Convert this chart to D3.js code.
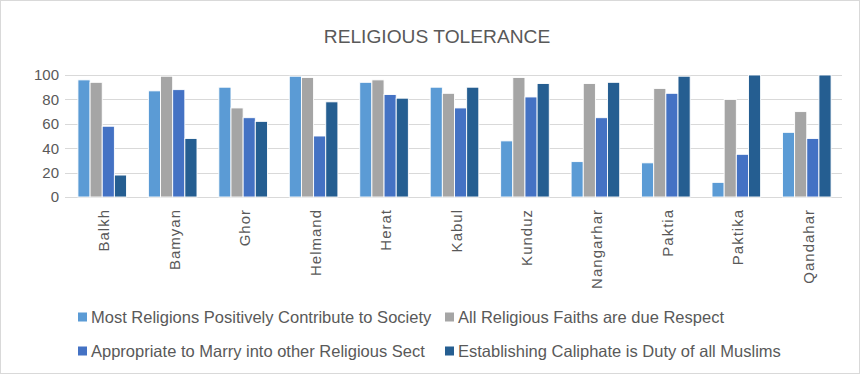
<!DOCTYPE html>
<html>
<head>
<meta charset="utf-8">
<script src="https://cdn.jsdelivr.net/npm/d3@7"></script>
<style>
  html, body { margin: 0; padding: 0; background: #fff; }
  svg { display: block; }
</style>
</head>
<body>
<svg id="chart" width="860" height="376"></svg>
<script>
// Provinces on the x axis
const provinces = ["Balkh", "Bamyan", "Ghor", "Helmand", "Herat", "Kabul",
  "Kunduz", "Nangarhar", "Paktia", "Paktika", "Qandahar"];

// Survey statements (series)
const seriesNames = [
  "Most Religions Positively Contribute to Society",
  "All Religious Faiths are due Respect",
  "Appropriate to Marry into other Religious Sect",
  "Establishing Caliphate is Duty of all Muslims"
];

// Percent agreeing, per province
const contributeValues = [96, 87, 90, 99, 94, 90, 46, 29, 28, 12, 53];
const respectValues    = [94, 99, 73, 98, 96, 85, 98, 93, 89, 80, 70];
const marryValues      = [58, 88, 65, 50, 84, 73, 82, 65, 85, 35, 48];
const caliphateValues  = [18, 48, 62, 78, 81, 90, 93, 94, 99, 100, 100];

const yTicks = [0, 20, 40, 60, 80, 100];
const colors = ["#5B9BD5", "#A5A5A5", "#4472C4", "#255E91"];

const seriesValues = [contributeValues, respectValues, marryValues, caliphateValues];

const svg = d3.select("#chart");
const W = 860, H = 376;
const margin = { left: 67, right: 18, top: 75, bottom: 179 };

// outer chart border
svg.append("rect")
  .attr("x", 0.5).attr("y", 0.5)
  .attr("width", W - 1).attr("height", H - 3)
  .attr("fill", "#fff").attr("stroke", "#D9D9D9");

const x = d3.scaleBand()
  .domain(provinces)
  .range([margin.left, W - margin.right])
  .paddingInner(0.31).paddingOuter(0.155);

const x0 = d3.scaleBand()
  .domain(provinces)
  .range([margin.left, W - margin.right])
  .padding(0);

const xs = d3.scaleBand()
  .domain(d3.range(seriesNames.length))
  .range([0, x.bandwidth()])
  .padding(0);

const y = d3.scaleLinear()
  .domain([0, 100])
  .range([H - margin.bottom, margin.top]);

// title
svg.append("text")
  .attr("x", 437).attr("y", 43)
  .attr("text-anchor", "middle")
  .attr("font-family", "Liberation Sans, Arial, sans-serif")
  .attr("font-size", 19.2)
  .attr("fill", "#595959")
  .text("RELIGIOUS TOLERANCE");

// gridlines
svg.append("g")
  .selectAll("line")
  .data(yTicks)
  .join("line")
  .attr("x1", margin.left - 2).attr("x2", W - margin.right)
  .attr("y1", d => Math.round(y(d)) + 0.5)
  .attr("y2", d => Math.round(y(d)) + 0.5)
  .attr("stroke", "#D9D9D9")
  .attr("stroke-width", 1);

// y axis labels
const yAxis = d3.axisLeft(y).tickValues(yTicks).tickSize(0).tickPadding(6);
const gy = svg.append("g")
  .attr("transform", `translate(${margin.left - 2},0)`)
  .call(yAxis);
gy.select(".domain").remove();
gy.selectAll("text")
  .attr("font-family", "Liberation Sans, Arial, sans-serif")
  .attr("font-size", 15)
  .attr("fill", "#595959");

// bars
const groups = svg.append("g")
  .selectAll("g")
  .data(provinces)
  .join("g")
  .attr("transform", d => `translate(${x(d)},0)`);

groups.selectAll("rect")
  .data((p, i) => seriesValues.map((vals, s) => ({ s, v: vals[i] })))
  .join("rect")
  .attr("x", d => xs(d.s))
  .attr("width", xs.bandwidth())
  .attr("y", d => y(d.v))
  .attr("height", d => y(0) - y(d.v))
  .attr("fill", d => colors[d.s])
  .attr("stroke", "#fff")
  .attr("stroke-width", 0.9);

// x axis category labels (rotated)
const xAxis = d3.axisBottom(x0).tickSize(0).tickPadding(0);
const gx = svg.append("g")
  .attr("transform", `translate(0,${y(0)})`)
  .call(xAxis);
gx.select(".domain").remove();
gx.selectAll("text")
  .attr("font-family", "Liberation Sans, Arial, sans-serif")
  .attr("font-size", 15)
  .attr("letter-spacing", 1)
  .attr("fill", "#595959")
  .attr("text-anchor", "end")
  .attr("dy", null)
  .attr("transform", "translate(1.5,12) rotate(-90)")
  .attr("x", 0).attr("y", 0)
  .attr("dominant-baseline", "central");

// legend
const legendPos = [
  { x: 78, y: 317 }, { x: 445, y: 317 },
  { x: 78, y: 351 }, { x: 445, y: 351 }
];
const legend = svg.append("g")
  .selectAll("g")
  .data(seriesNames)
  .join("g")
  .attr("transform", (d, i) => `translate(${legendPos[i].x},${legendPos[i].y})`);
legend.append("rect")
  .attr("x", 0).attr("y", -4.5)
  .attr("width", 9).attr("height", 9)
  .attr("fill", (d, i) => colors[i]);
legend.append("text")
  .attr("x", 13).attr("y", 0)
  .attr("dy", "0.35em")
  .attr("font-family", "Liberation Sans Narrow, Liberation Sans, Arial, sans-serif")
  .attr("font-size", 16.5)
  .attr("fill", "#595959")
  .text(d => d);
</script>
</body>
</html>
